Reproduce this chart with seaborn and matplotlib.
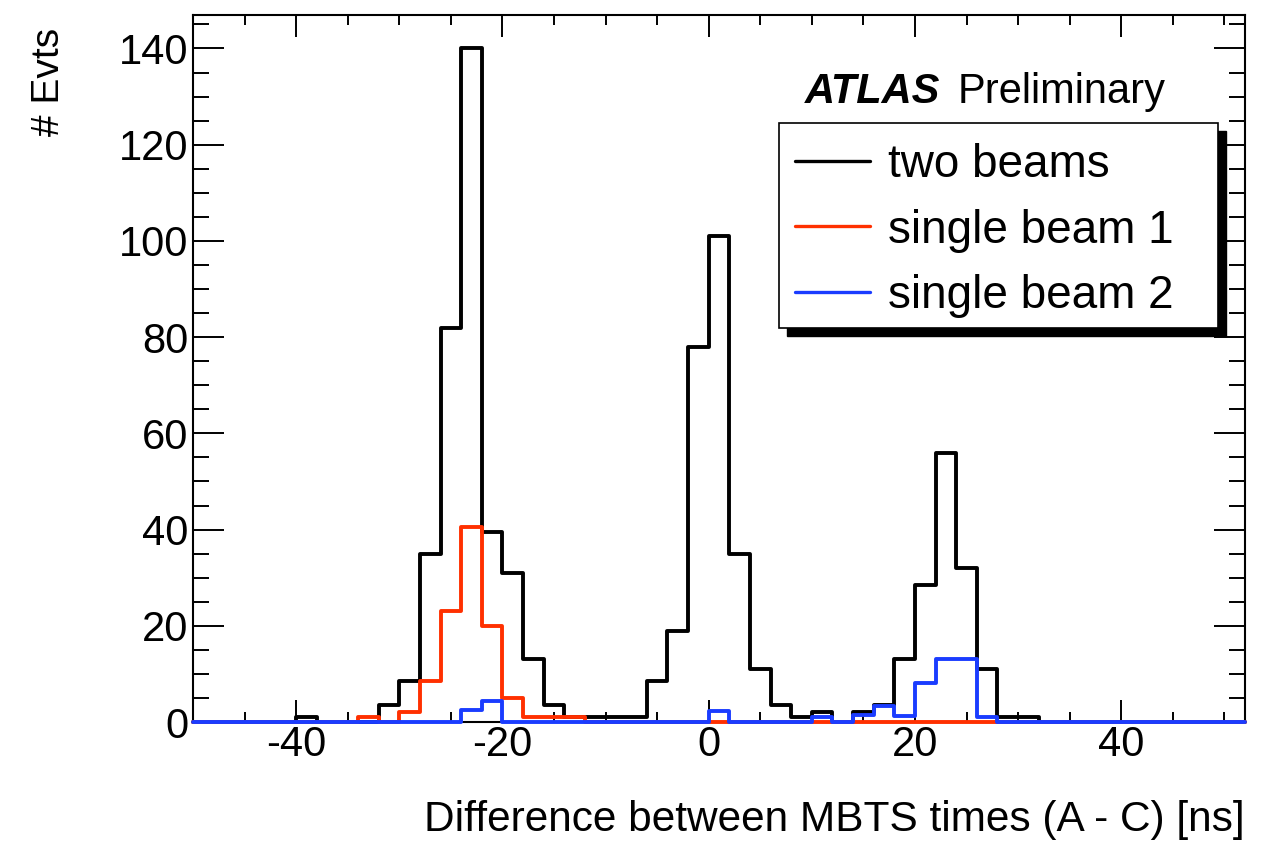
import numpy as np
import pandas as pd
import matplotlib
matplotlib.use("Agg")
import matplotlib.pyplot as plt
from matplotlib.lines import Line2D
from matplotlib.patches import Rectangle
from matplotlib.ticker import MultipleLocator
import seaborn as sns

# ---- data: 2 ns bins from -50 to 52 ns (left edges -50 ... 50) ----
bin_width = 2
bin_range = (-50, 52)
bin_edges = np.arange(bin_range[0], bin_range[1] + bin_width, bin_width)
bin_centers = (bin_edges[:-1] + bin_edges[1:]) / 2

two_beams = [
    0, 0, 0, 0, 0,            # -50 .. -40
    1, 0, 0, 0, 3.5,          # -40 .. -30
    8.5, 35, 82, 140, 39.5,   # -30 .. -20
    31, 13, 3.5, 1, 1,        # -20 .. -10
    1, 1, 8.5, 19, 78,        # -10 ..   0
    101, 35, 11, 3.5, 1,      #   0 ..  10
    2, 0, 2, 3.5, 13,         #  10 ..  20
    28.5, 56, 32, 11, 1,      #  20 ..  30
    1, 0, 0, 0, 0,            #  30 ..  40
    0, 0, 0, 0, 0,            #  40 ..  50
    0,                        #  50 ..  52
]
single_beam_1 = [
    0, 0, 0, 0, 0,
    0, 0, 0, 1, 0,
    2, 8.5, 23, 40.5, 20,
    5, 1, 1, 1, 0,
    0, 0, 0, 0, 0,
    0, 0, 0, 0, 0,
    0, 0, 0, 0, 0,
    0, 0, 0, 0, 0,
    0, 0, 0, 0, 0,
    0, 0, 0, 0, 0,
    0,
]
single_beam_2 = [
    0, 0, 0, 0, 0,
    0, 0, 0, 0, 0,
    0, 0, 0, 2.5, 4.3,
    0, 0, 0, 0, 0,
    0, 0, 0, 0, 0,
    2.3, 0, 0, 0, 0,
    1, 0, 1.4, 3.4, 1.2,
    8.2, 13, 13, 1, 0,
    0, 0, 0, 0, 0,
    0, 0, 0, 0, 0,
    0,
]
series_labels = ["two beams", "single beam 1", "single beam 2"]
series_colors = ["#000000", "#ff3000", "#1a3cff"]

df = pd.DataFrame({
    "dt": bin_centers,
    "two beams": two_beams,
    "single beam 1": single_beam_1,
    "single beam 2": single_beam_2,
})

# ---- style ----
sns.set_style("ticks")
plt.rcParams["font.family"] = ["Liberation Sans", "DejaVu Sans"]
plt.rcParams["axes.unicode_minus"] = False
plt.rcParams["text.color"] = "black"
plt.rcParams["axes.labelcolor"] = "black"
plt.rcParams["xtick.color"] = "black"
plt.rcParams["ytick.color"] = "black"

W, H = 1272, 841
fig = plt.figure(figsize=(W / 100, H / 100), dpi=100)
fig.patch.set_facecolor("white")

# frame in pixel units
ax_left, ax_right, ax_top, ax_bottom = 193, 1245, 14.8, 722
ax = fig.add_axes([ax_left / W, 1 - ax_bottom / H,
                   (ax_right - ax_left) / W, (ax_bottom - ax_top) / H])
ax.set_facecolor("white")

for i, (lab, col) in enumerate(zip(series_labels, series_colors)):
    sns.histplot(data=df, x="dt", weights=lab, binwidth=bin_width,
                 binrange=bin_range, element="step", fill=False, color=col,
                 linewidth=2.8, ax=ax, clip_on=False, zorder=2 + i)

ax.set_xlim(*bin_range)
ax.set_ylim(0, 147)

ax.xaxis.set_major_locator(MultipleLocator(20))
ax.xaxis.set_minor_locator(MultipleLocator(5))
ax.yaxis.set_major_locator(MultipleLocator(20))
ax.yaxis.set_minor_locator(MultipleLocator(5))

ax.tick_params(which="both", direction="in", top=True, right=True,
               width=1.4, colors="black")
ax.tick_params(axis="x", which="major", length=15.5, labelsize=30, pad=2)
ax.tick_params(axis="x", which="minor", length=7.5)
ax.tick_params(axis="y", which="major", length=22.5, labelsize=30, pad=3.5)
ax.tick_params(axis="y", which="minor", length=11.5)

for sp in ax.spines.values():
    sp.set_linewidth(1.5)
    sp.set_color("black")
    sp.set_visible(True)

ax.set_xlabel("Difference between MBTS times (A - C) [ns]", fontsize=30.5,
              loc="right")
ax.xaxis.set_label_coords(1.0, -0.111)
ax.set_ylabel("# Evts", fontsize=28, loc="top")
ax.yaxis.set_label_coords(-0.120, 0.981)

# ---- ATLAS label ----
fig.text(805 / W, 1 - 103 / H, "ATLAS", fontsize=30, fontweight="bold",
         fontstyle="italic", ha="left", va="baseline")
fig.text(958 / W, 1 - 103 / H, "Preliminary", fontsize=30,
         ha="left", va="baseline")

# ---- legend with drop shadow ----
lx0, lx1, ly0, ly1 = 779, 1218, 123, 328
shadow = 8
ax.add_patch(Rectangle(((lx0 + shadow) / W, 1 - (ly1 + shadow) / H),
                       (lx1 - lx0) / W, (ly1 - ly0) / H,
                       transform=fig.transFigure, facecolor="black",
                       edgecolor="black", clip_on=False, zorder=8))
ax.add_patch(Rectangle((lx0 / W, 1 - ly1 / H), (lx1 - lx0) / W,
                       (ly1 - ly0) / H, transform=fig.transFigure,
                       facecolor="white", edgecolor="black", linewidth=1.2,
                       clip_on=False, zorder=9))
handles = [Line2D([], [], color=c, linewidth=2.4) for c in series_colors]
leg = ax.legend(handles, series_labels, loc="center left",
                bbox_to_anchor=(795 / W, 1 - 230.5 / H),
                bbox_transform=fig.transFigure, frameon=False,
                borderpad=0, borderaxespad=0, handlelength=1.64,
                handletextpad=0.39, labelspacing=0.475, fontsize=33)
leg.set_zorder(10)

fig.savefig("out.png", dpi=100, facecolor="white")
